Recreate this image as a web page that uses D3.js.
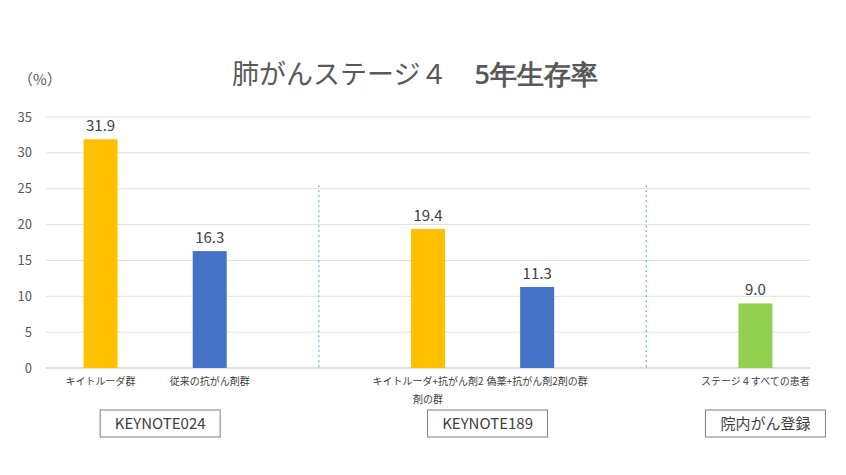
<!DOCTYPE html>
<html><head><meta charset="utf-8">
<script src="https://cdn.jsdelivr.net/npm/d3@7"></script>
<style>body{margin:0;background:#fff}</style>
</head><body><div id="chart"></div>
<script>
// スロット: 7枠、空き枠は区切り線
const slots = ['s1', 's2', 'gap1', 's3', 's4', 'gap2', 's5'];
const categories = ['キイトルーダ群', '従来の抗がん剤群', 'キイトルーダ+抗がん剤2|剤の群', '偽薬+抗がん剤2剤の群', 'ステージ４すべての患者'];
const barSlots = ['s1', 's2', 's3', 's4', 's5'];
const values = [31.9, 16.3, 19.4, 11.3, 9.0];
const colors = ['#ffc000', '#4472c4', '#ffc000', '#4472c4', '#92d050'];
const yTicks = [0, 5, 10, 15, 20, 25, 30, 35];
const groups = [
  { name: 'KEYNOTE024', from: 's1', to: 's2' },
  { name: 'KEYNOTE189', from: 's3', to: 's4' },
  { name: '院内がん登録', from: 's5', to: 's5' }
];
const gaps = ['gap1', 'gap2'];

const width = 846, height = 475;
const font = '"Noto Sans CJK JP", "Noto Sans", sans-serif';
const svg = d3.select('#chart').append('svg').attr('width', width).attr('height', height)
  .style('font-family', font);

const x = d3.scaleBand().domain(slots).range([46, 810]);
const y = d3.scaleLinear().domain([0, 35]).range([368, 117]);

// グリッド
svg.append('g').selectAll('line').data(yTicks).join('line')
  .attr('x1', 46).attr('x2', 810).attr('y1', d => y(d)).attr('y2', d => y(d))
  .attr('stroke', d => d === 0 ? '#bfbfbf' : '#e0e0e0').attr('stroke-width', 1);

svg.append('g').selectAll('text').data(yTicks).join('text')
  .attr('x', 32).attr('y', d => y(d)).attr('dy', '0.35em').attr('text-anchor', 'end')
  .attr('font-size', 13).attr('fill', '#595959').text(d => d);

svg.append('text').attr('x', 18).attr('y', 85).attr('font-size', 15).attr('fill', '#595959').text('（%）');

// 区切り線
svg.append('g').selectAll('line').data(gaps).join('line')
  .attr('x1', d => x(d) + x.bandwidth() / 2).attr('x2', d => x(d) + x.bandwidth() / 2)
  .attr('y1', y(25.5)).attr('y2', y(0))
  .attr('stroke', '#4bacc6').attr('stroke-dasharray', '2,3').attr('stroke-width', 1);

const bw = 34;
const cx = s => x(s) + x.bandwidth() / 2;
svg.append('g').selectAll('rect').data(values).join('rect')
  .attr('x', (d, i) => cx(barSlots[i]) - bw / 2).attr('width', bw)
  .attr('y', d => y(d)).attr('height', d => y(0) - y(d))
  .attr('fill', (d, i) => colors[i]);

svg.append('g').selectAll('text').data(values).join('text')
  .attr('x', (d, i) => cx(barSlots[i])).attr('y', d => y(d) - 8)
  .attr('text-anchor', 'middle').attr('font-size', 15).attr('fill', '#404040')
  .text(d => d.toFixed(1));

// カテゴリラベル
const lab = svg.append('g').selectAll('text').data(categories).join('text')
  .attr('x', (d, i) => cx(barSlots[i])).attr('y', 385)
  .attr('text-anchor', 'middle').attr('font-size', 10).attr('fill', '#404040');
lab.each(function (d, i) {
  d.split('|').forEach((t, k) => {
    d3.select(this).append('tspan').attr('x', cx(barSlots[i])).attr('dy', k ? 18 : 0).text(t);
  });
});

// グループ枠
const gg = svg.append('g').selectAll('g').data(groups).join('g')
  .attr('transform', d => `translate(${(cx(d.from) + cx(d.to)) / 2 - 55 + (d.from === 's5' ? 5 : 0)},410)`);
gg.append('rect').attr('width', 120).attr('height', 27).attr('fill', '#fff')
  .attr('stroke', '#7f7f7f').attr('stroke-width', 1);
gg.append('text').attr('x', 60).attr('y', 14).attr('dy', '0.35em').attr('text-anchor', 'middle')
  .attr('font-size', 15).attr('fill', '#404040').text(d => d.name);

// タイトル
const title = svg.append('text').attr('x', 415).attr('y', 84).attr('text-anchor', 'middle')
  .attr('font-size', 27).attr('fill', '#595959');
title.append('tspan').text('肺がんステージ４　');
title.append('tspan').attr('font-family', '"Open Sans", sans-serif').attr('font-weight', 600).text('5年生存率');
</script></body></html>
